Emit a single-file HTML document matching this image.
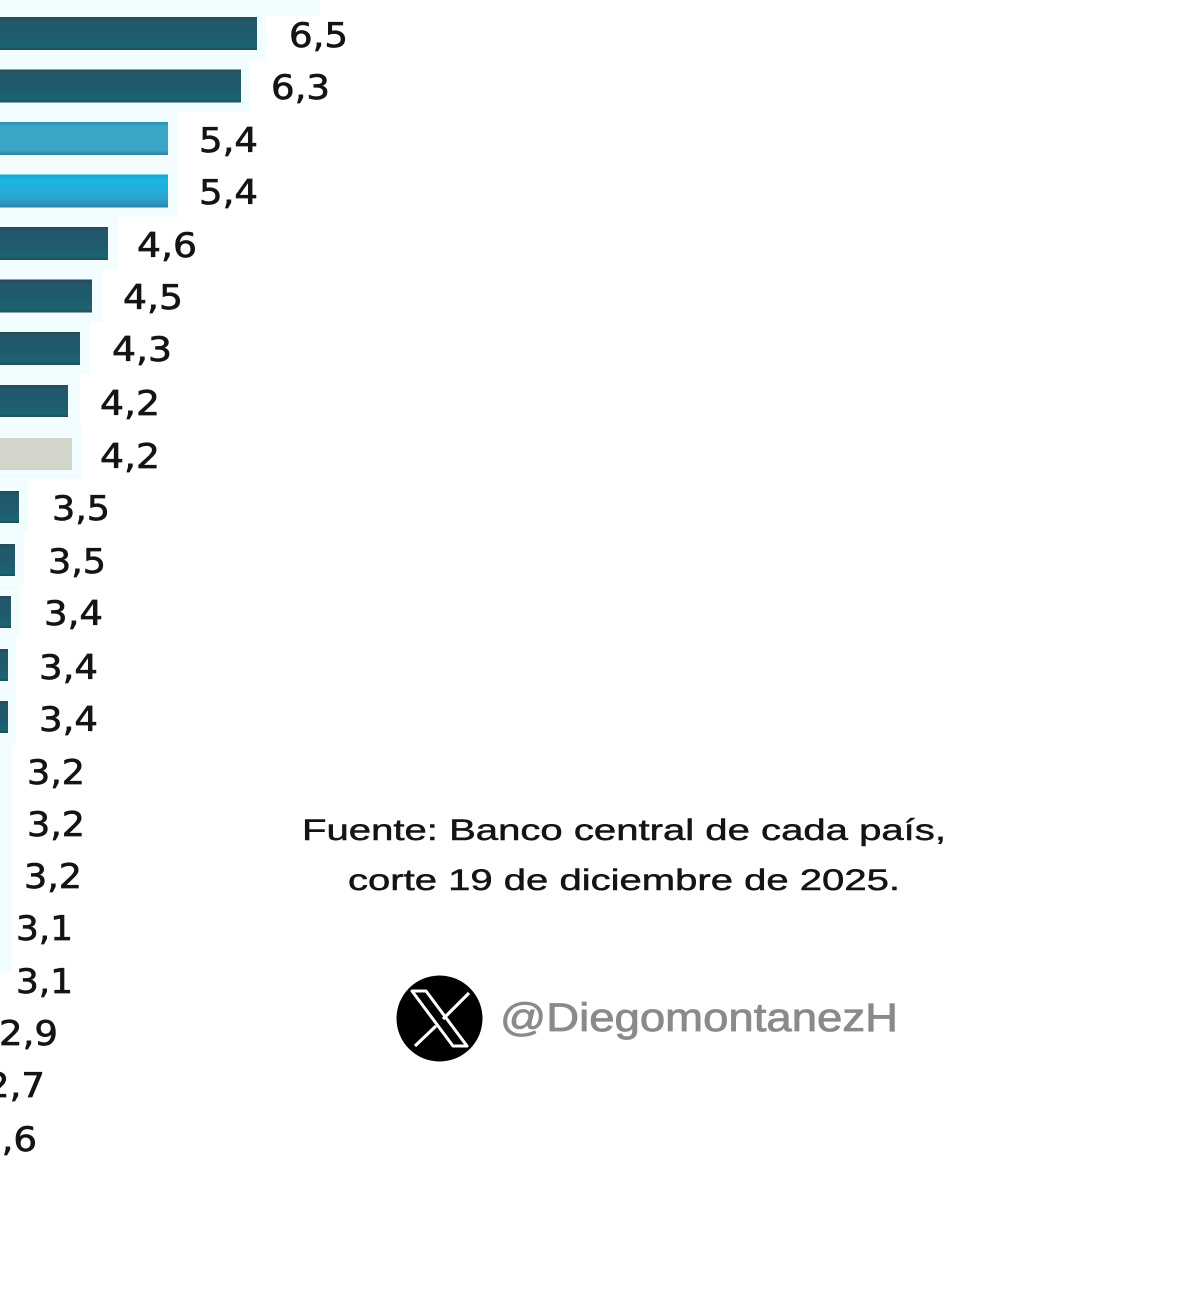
<!DOCTYPE html>
<html>
<head>
<meta charset="utf-8">
<style>
  html, body { margin: 0; padding: 0; background: #ffffff; }
  body { width: 1200px; height: 1309px; overflow: hidden; }
  svg { display: block; }
  .lbl { font-family: "DejaVu Sans", "Liberation Sans", sans-serif; font-size: 34px; fill: #141414; stroke: #141414; stroke-width: 0.7px; }
  .src { font-family: "Liberation Sans", Arial, sans-serif; font-size: 30px; fill: #141414; stroke: #141414; stroke-width: 0.5px; }
  .hdl { font-family: "Liberation Sans", Arial, sans-serif; font-size: 40px; fill: #8a8a8a; stroke: #8a8a8a; stroke-width: 0.8px; }
</style>
</head>
<body>
<svg width="1200" height="1309" viewBox="0 0 1200 1309" xmlns="http://www.w3.org/2000/svg">
  <defs>
    <linearGradient id="dark" x1="0" y1="0" x2="0" y2="1">
      <stop offset="0" stop-color="#2b4a52"/>
      <stop offset="0.12" stop-color="#22576a"/>
      <stop offset="0.6" stop-color="#1f5b6e"/>
      <stop offset="0.9" stop-color="#1b6470"/>
      <stop offset="1" stop-color="#1a4f60"/>
    </linearGradient>
    <linearGradient id="mid" x1="0" y1="0" x2="0" y2="1">
      <stop offset="0" stop-color="#2f8fae"/>
      <stop offset="0.15" stop-color="#3aa7c8"/>
      <stop offset="0.85" stop-color="#3aa5c6"/>
      <stop offset="1" stop-color="#2a85a8"/>
    </linearGradient>
    <linearGradient id="bright" x1="0" y1="0" x2="0" y2="1">
      <stop offset="0" stop-color="#1f9ec8"/>
      <stop offset="0.15" stop-color="#18b6e6"/>
      <stop offset="0.7" stop-color="#2aa8d0"/>
      <stop offset="1" stop-color="#2a86ac"/>
    </linearGradient>
  </defs>

  <!-- light cyan halos -->
  <g fill="#f1fdff">
    <rect x="0" y="-19" width="320" height="35"/>
    <rect x="0" y="8" width="266" height="52"/>
    <rect x="0" y="60" width="250" height="52"/>
    <rect x="0" y="112" width="178" height="52"/>
    <rect x="0" y="165" width="178" height="52"/>
    <rect x="0" y="217" width="118" height="52"/>
    <rect x="0" y="270" width="102" height="52"/>
    <rect x="0" y="322" width="90" height="52"/>
    <rect x="0" y="375" width="80" height="52"/>
    <rect x="0" y="427" width="82" height="52"/>
    <rect x="0" y="480" width="28" height="52"/>
    <rect x="0" y="532" width="24" height="52"/>
    <rect x="0" y="585" width="20" height="52"/>
    <rect x="0" y="637" width="16" height="52"/>
    <rect x="0" y="690" width="16" height="52"/>
    <rect x="0" y="742" width="12" height="230"/>
  </g>

  <!-- bars -->
  <rect x="0" y="17" width="257" height="33" fill="url(#dark)"/>
  <rect x="0" y="69.5" width="241" height="33" fill="url(#dark)"/>
  <rect x="0" y="122" width="168" height="33" fill="url(#mid)"/>
  <rect x="0" y="174.5" width="168" height="33" fill="url(#bright)"/>
  <rect x="0" y="227" width="108" height="33" fill="url(#dark)"/>
  <rect x="0" y="279.5" width="92" height="33" fill="url(#dark)"/>
  <rect x="0" y="332" width="80" height="33" fill="url(#dark)"/>
  <rect x="0" y="385" width="68" height="32" fill="url(#dark)"/>
  <rect x="0" y="438" width="72" height="32" fill="#d2d5ca"/>
  <rect x="0" y="491" width="19" height="32" fill="url(#dark)"/>
  <rect x="0" y="544" width="15" height="32" fill="url(#dark)"/>
  <rect x="0" y="596" width="11" height="32" fill="url(#dark)"/>
  <rect x="0" y="649" width="8" height="32" fill="url(#dark)"/>
  <rect x="0" y="701" width="8" height="32" fill="url(#dark)"/>

  <!-- value labels -->
  <text class="lbl" x="327" y="-5" textLength="59" lengthAdjust="spacingAndGlyphs">6,9</text>
  <text class="lbl" x="289" y="47" textLength="59" lengthAdjust="spacingAndGlyphs">6,5</text>
  <text class="lbl" x="271" y="99" textLength="59" lengthAdjust="spacingAndGlyphs">6,3</text>
  <text class="lbl" x="199" y="152" textLength="59" lengthAdjust="spacingAndGlyphs">5,4</text>
  <text class="lbl" x="199" y="204" textLength="59" lengthAdjust="spacingAndGlyphs">5,4</text>
  <text class="lbl" x="137" y="257" textLength="60" lengthAdjust="spacingAndGlyphs">4,6</text>
  <text class="lbl" x="123" y="309" textLength="60" lengthAdjust="spacingAndGlyphs">4,5</text>
  <text class="lbl" x="112" y="361" textLength="60" lengthAdjust="spacingAndGlyphs">4,3</text>
  <text class="lbl" x="100" y="415" textLength="60" lengthAdjust="spacingAndGlyphs">4,2</text>
  <text class="lbl" x="100" y="468" textLength="60" lengthAdjust="spacingAndGlyphs">4,2</text>
  <text class="lbl" x="52" y="520" textLength="58" lengthAdjust="spacingAndGlyphs">3,5</text>
  <text class="lbl" x="48" y="573" textLength="58" lengthAdjust="spacingAndGlyphs">3,5</text>
  <text class="lbl" x="44" y="625" textLength="59" lengthAdjust="spacingAndGlyphs">3,4</text>
  <text class="lbl" x="39" y="679" textLength="59" lengthAdjust="spacingAndGlyphs">3,4</text>
  <text class="lbl" x="39" y="731" textLength="59" lengthAdjust="spacingAndGlyphs">3,4</text>
  <text class="lbl" x="27" y="784" textLength="58" lengthAdjust="spacingAndGlyphs">3,2</text>
  <text class="lbl" x="27" y="836" textLength="58" lengthAdjust="spacingAndGlyphs">3,2</text>
  <text class="lbl" x="24" y="888" textLength="58" lengthAdjust="spacingAndGlyphs">3,2</text>
  <text class="lbl" x="16" y="940" textLength="57" lengthAdjust="spacingAndGlyphs">3,1</text>
  <text class="lbl" x="16" y="993" textLength="57" lengthAdjust="spacingAndGlyphs">3,1</text>
  <text class="lbl" x="-1" y="1045" textLength="59" lengthAdjust="spacingAndGlyphs">2,9</text>
  <text class="lbl" x="-14" y="1097" textLength="59" lengthAdjust="spacingAndGlyphs">2,7</text>
  <text class="lbl" x="-22" y="1151" textLength="59" lengthAdjust="spacingAndGlyphs">2,6</text>

  <!-- source note -->
  <text class="src" x="302" y="840" textLength="644" lengthAdjust="spacingAndGlyphs">Fuente: Banco central de cada país,</text>
  <text class="src" x="348" y="890" textLength="552" lengthAdjust="spacingAndGlyphs">corte 19 de diciembre de 2025.</text>

  <!-- X logo -->
  <circle cx="439.5" cy="1018.5" r="43" fill="#000000"/>
  <polygon points="412,991 426,991 467,1046 453,1046" fill="none" stroke="#ffffff" stroke-width="3" stroke-linejoin="round"/>
  <line x1="469" y1="993" x2="443" y2="1019" stroke="#ffffff" stroke-width="3.2"/>
  <line x1="436" y1="1026" x2="415" y2="1046" stroke="#ffffff" stroke-width="3.2"/>

  <!-- handle -->
  <text class="hdl" x="500" y="1031" textLength="398" lengthAdjust="spacingAndGlyphs">@DiegomontanezH</text>
</svg>
</body>
</html>
